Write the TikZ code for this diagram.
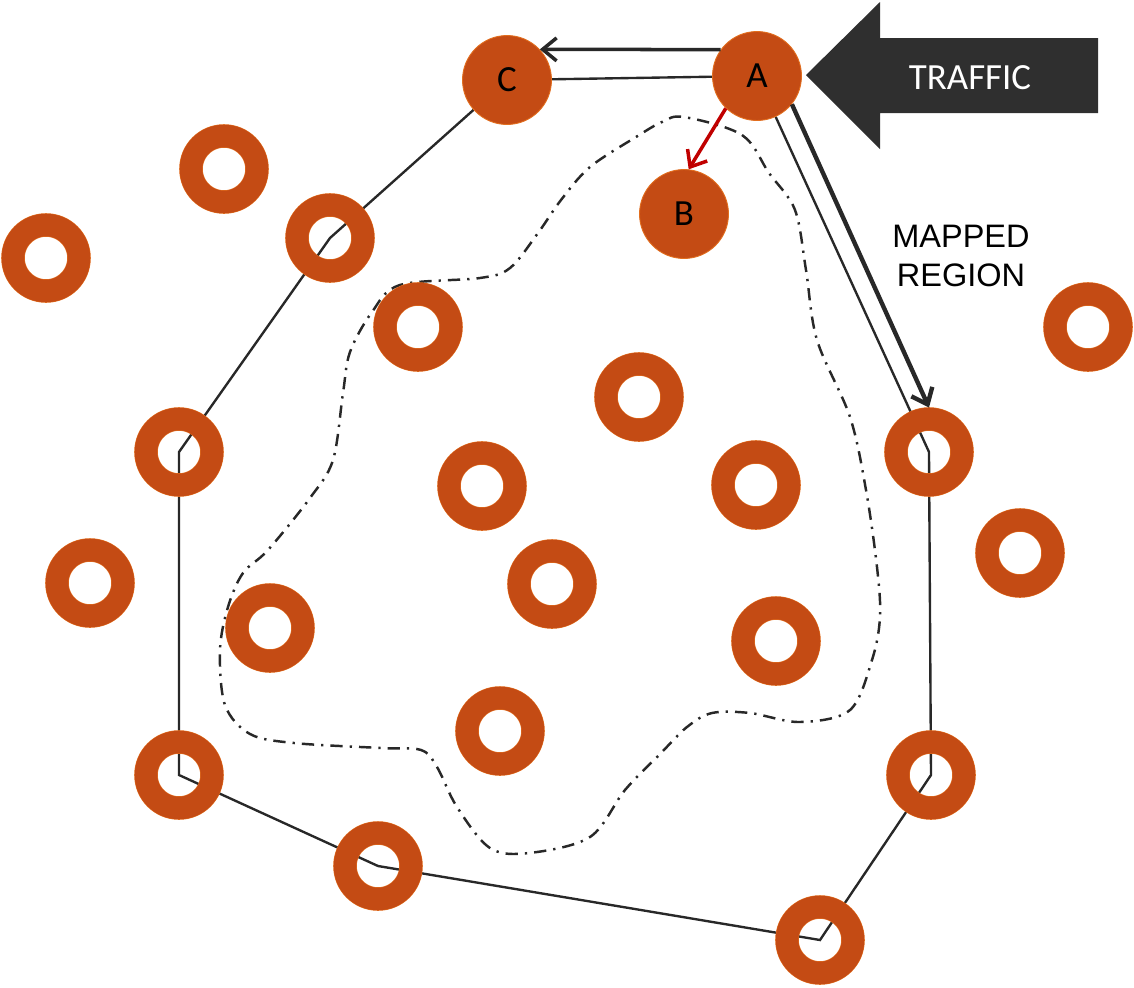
\documentclass[tikz,border=0pt]{standalone}
\usepackage{fontspec}
\setmainfont{Liberation Sans}
\newfontfamily\calibri{Carlito}
\usetikzlibrary{arrows.meta,backgrounds}

\definecolor{ringfill}{RGB}{196,75,20}
\definecolor{ringedge}{RGB}{226,110,30}
\definecolor{linegray}{RGB}{40,40,40}
\definecolor{trafficgray}{RGB}{47,47,47}
\definecolor{hopred}{RGB}{192,0,0}

\begin{document}
\begin{tikzpicture}[x=0.02cm,y=-0.02cm,
  ring/.style={circle,inner sep=0pt,minimum size=1.32cm,outer sep=0.23cm,draw=ringedge,line width=0.3pt,double=ringfill,double distance=0.45cm},
  router/.style={circle,inner sep=0pt,minimum size=1.78cm,fill=ringfill,draw=ringedge,line width=0.5pt,font=\calibri\fontsize{21}{21}\selectfont},
  hull/.style={draw=linegray,line width=1.35pt},
  barb/.style={-{Straight Barb[length=0.28cm,width=0.46cm]}}]

  \useasboundingbox (0,0) rectangle (1134,988);

  % routers with labels
  \node [router] at (507,80) (C) {C};
  \node [router] at (757,76) (A) {A};
  \node [router] at (684,214) (B) {B};

  % the other nodes of the network
  \foreach \x/\y [count=\i] in {224/169,46/258,330/238,418/327,639/397,179/452,482/486,756/485,929/452,1088/327,
                                 1020/553,90/583,552/584,270/628,776/641,500/731,179/775,931/775,378/866,820/940}
    \node [ring] at (\x,\y) (r\i) {};

  \begin{pgfonlayer}{background}
    % outline of the mapped region
    \draw [hull] (C) -- (r3.center) -- (r6.center) -- (r17.center) -- (r19.center) -- (r20.center) -- (r18.center) -- (r9.center) -- (A) -- (C);

    % area already known
    \draw [linegray,line width=1.4pt,dash pattern=on 7pt off 4pt on 1.3pt off 4pt]
    plot [smooth cycle,tension=0.55] coordinates {
      (684,117) (742,135) (769,173) (795,210) (806,270) (817,340) (850,417) (866,490) (877,567) (880,617) (872,660)
      (850,710) (800,722) (750,713) (712,713) (687,727) (661,753) (625,790) (590,837) (529,853) (490,848)
      (457,807) (437,767) (421,750) (381,748) (294,743) (250,734) (225,705) (220,650) (228,607) (243,573)
      (268,550) (310,498) (333,460) (343,393) (350,352) (372,312) (400,285) (480,278) (510,268)
      (538,233) (561,200) (590,167) (636,137) (662,122)};
  \end{pgfonlayer}

  % routes from A
  \draw [barb,linegray,line width=2pt] (A.144) -- (C.43);
  \draw [barb,linegray,line width=2.5pt] (A.-39) -- (r9.north);
  \draw [barb,hopred,line width=2pt] (A.-134) -- (B.84);

  % incoming traffic
  \fill [trafficgray] (806,75) -- (880,2) -- (880,38) -- (1098,38) -- (1098,113) -- (880,113) -- (880,149) -- cycle;
  \node [text=white,font=\calibri\fontsize{21}{21}\selectfont] at (970,78) (traffic) {TRAFFIC};

  \node [align=center,font=\fontsize{18.5}{22}\selectfont] at (961,256) (mapped) {MAPPED\\REGION};

\end{tikzpicture}
\end{document}
